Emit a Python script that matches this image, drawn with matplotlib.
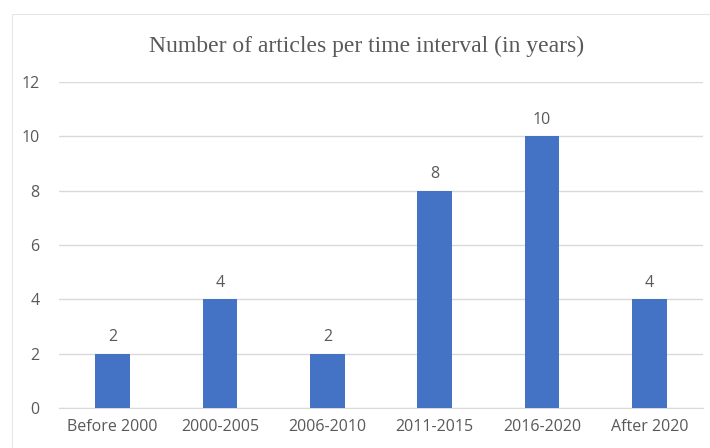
import matplotlib.pyplot as plt
from matplotlib.patches import Rectangle

categories = ["Before 2000", "2000-2005", "2006-2010", "2011-2015", "2016-2020", "After 2020"]
counts = [2, 4, 2, 8, 10, 4]
yticks = [0, 2, 4, 6, 8, 10, 12]

text_color = "#595959"
grid_color = "#D9D9D9"
bar_color = "#4472C4"

fig = plt.figure(figsize=(7.1, 4.48), dpi=100)
fig.patch.set_facecolor("white")

# faint chart border as in Excel
fig.patches.append(Rectangle((12 / 710, -0.1), 1.0, (448 - 14) / 448 + 0.1,
                             transform=fig.transFigure, fill=False,
                             edgecolor="#E6E6E6", linewidth=0.8))

ax = fig.add_axes([59 / 710, 40 / 448, (703 - 59) / 710, (408 - 82) / 448])
x = range(len(categories))
bars = ax.bar(x, counts, width=0.32, color=bar_color, zorder=3)

ax.set_xlim(-0.5, len(categories) - 0.5)
ax.set_ylim(0, 12)
ax.set_yticks(yticks)
ax.set_xticks(list(x))
ax.set_xticklabels(categories)

ax.grid(axis="y", color=grid_color, linewidth=1, zorder=0)
for s in ["top", "right", "left"]:
    ax.spines[s].set_visible(False)
ax.spines["bottom"].set_color(grid_color)
ax.tick_params(length=0, colors=text_color, labelsize=11.5, pad=8)
ax.tick_params(axis="y", pad=14)
for lbl in ax.get_xticklabels() + ax.get_yticklabels():
    lbl.set_family("Open Sans")

for b, v in zip(bars, counts):
    ax.annotate(str(v), (b.get_x() + b.get_width() / 2, v), xytext=(0, 6),
                textcoords="offset points", ha="center", va="bottom",
                color=text_color, fontsize=11.5, family="Open Sans")

fig.text(367 / 710, 1 - 46 / 448, "Number of articles per time interval (in years)",
         ha="center", va="center", fontsize=17, color=text_color,
         family="Liberation Serif")

fig.savefig("out.png", dpi=100)
